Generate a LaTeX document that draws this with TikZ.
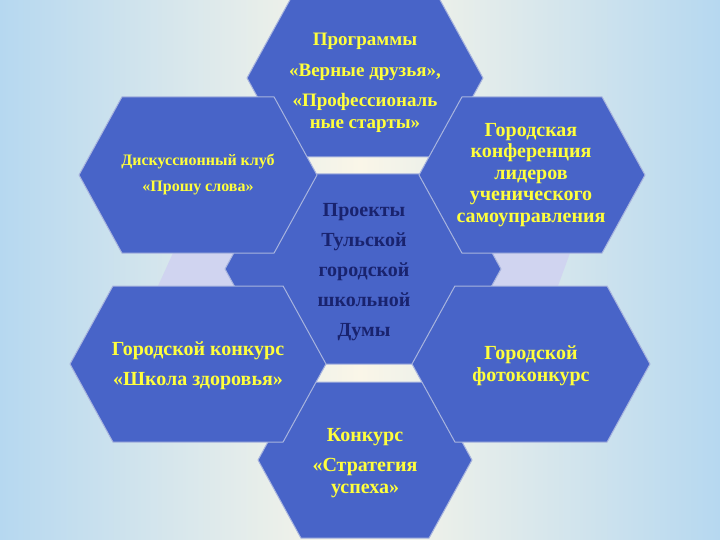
\documentclass[tikz,border=0pt]{standalone}
\usepackage{fontspec}
\setmainfont{Liberation Serif}
\definecolor{cellblue}{RGB}{72,100,200}
\definecolor{celledge}{RGB}{168,180,222}
\definecolor{bandlilac}{RGB}{208,212,240}
\definecolor{skyblue}{RGB}{182,216,240}
\definecolor{cream}{RGB}{250,246,232}
\definecolor{textyellow}{RGB}{255,255,60}
\definecolor{textnavy}{RGB}{25,35,110}
\newcommand\hexcell[4]{%
  \filldraw[cell] (#1-#3,#2) -- (#1-#3+0.55*#4,#2-#4) -- (#1+#3-0.55*#4,#2-#4)
    -- (#1+#3,#2) -- (#1+#3-0.55*#4,#2+#4) -- (#1-#3+0.55*#4,#2+#4) -- cycle;}
\begin{document}
\begin{tikzpicture}[x=1pt,y=-1pt,line join=round,
    cell/.style={fill=cellblue,draw=celledge,line width=1pt},
    celltext/.style={align=center,text=textyellow,font=\bfseries\fontsize{20}{21.5}\selectfont,inner sep=0pt},
    dumatext/.style={celltext,text=textnavy,font=\bfseries\fontsize{20}{30}\selectfont}]
            \useasboundingbox (0,0) rectangle (720,540);
            \shade [left color=skyblue,right color=skyblue,middle color=cream] (0,0) rectangle (720,540);
            \fill [bandlilac] (173,253)--(570,253)--(558,286)--(158,286)--cycle;
            \hexcell{363}{269}{138}{95}
            \hexcell{365}{78}{118}{79}
            \hexcell{365}{460}{107}{78}
            \hexcell{198}{175}{119}{78}
            \hexcell{532}{175}{113}{78}
            \hexcell{198}{364}{128}{78}
            \hexcell{531}{364}{119}{78}
            \node [celltext,font=\bfseries\fontsize{19}{22}\selectfont] (prog) at (365,83) {Программы\\[9pt]«Верные друзья»,\\[8pt]«Профессиональ\\ные старты»};
            \node [celltext,font=\bfseries\fontsize{16}{26}\selectfont] (club) at (198,175) {Дискуссионный клуб\\«Прошу слова»};
            \node [celltext] (conf) at (531,175) {Городская\\конференция\\лидеров\\ученического\\самоуправления};
            \node [dumatext] (duma) at (364,272) {Проекты\\Тульской\\городской\\школьной\\Думы};
            \node [celltext,font=\bfseries\fontsize{20}{30}\selectfont] (health) at (198,366) {Городской конкурс\\«Школа здоровья»};
            \node [celltext,font=\bfseries\fontsize{20}{22}\selectfont] (photo) at (531,366) {Городской\\фотоконкурс};
            \node [celltext] (success) at (365,463) {Конкурс\\[9pt]«Стратегия\\успеха»};
        \end{tikzpicture}
\end{document}
